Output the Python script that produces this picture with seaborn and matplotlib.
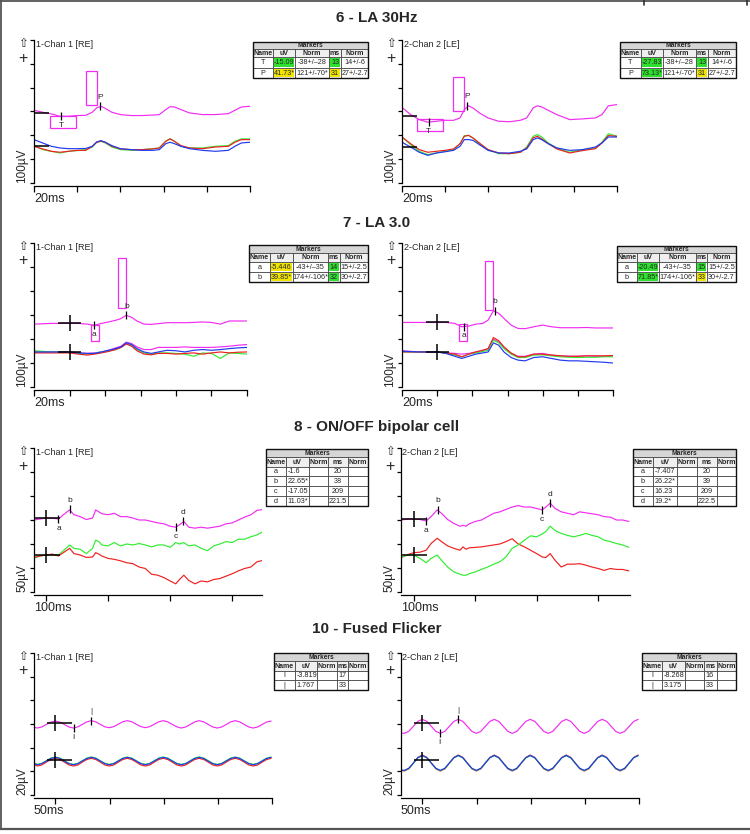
import matplotlib
matplotlib.use("Agg")
import matplotlib.pyplot as plt
from matplotlib.patches import Rectangle
import numpy as np
import pandas as pd
import seaborn as sns

# values: time in ms, amplitude in uV

# ---- 6 - LA 30Hz ----
la30_t = [0, 4, 8, 12, 16, 20, 24, 27, 29, 31, 33, 36, 40, 45, 50, 55, 58, 61, 63, 65, 68, 72, 78, 84, 90, 93, 96, 100]
la30_re_pink = [305, 297, 290, 280, 280, 283, 284, 297, 315, 322, 313, 297, 287, 283, 283, 285, 287, 308, 320, 319, 308, 294, 287, 287, 291, 305, 319, 322]
la30_re_green = [157, 140, 133, 126, 133, 136, 140, 151, 171, 175, 168, 151, 140, 137, 140, 144, 147, 175, 186, 175, 154, 147, 147, 154, 157, 175, 185, 185]
la30_re_red = [154, 143, 133, 129, 133, 137, 137, 154, 171, 175, 171, 154, 143, 140, 140, 143, 147, 175, 185, 175, 157, 147, 144, 151, 154, 171, 182, 182]
la30_re_blue = [182, 168, 154, 147, 144, 144, 145, 154, 172, 178, 171, 157, 144, 140, 137, 137, 140, 165, 171, 165, 154, 144, 137, 133, 137, 154, 168, 171]
la30_le_pink = [317, 287, 266, 255, 259, 263, 263, 273, 308, 324, 315, 294, 273, 259, 257, 263, 273, 315, 324, 319, 305, 287, 266, 269, 273, 287, 324, 329]
la30_le_green = [193, 161, 133, 119, 126, 133, 140, 165, 199, 199, 189, 165, 140, 123, 123, 129, 151, 196, 203, 193, 168, 147, 129, 140, 147, 171, 207, 196]
la30_le_red = [193, 165, 140, 129, 133, 137, 143, 165, 196, 200, 189, 168, 140, 126, 123, 129, 147, 189, 196, 185, 165, 143, 126, 136, 144, 168, 199, 196]
la30_le_blue = [171, 151, 129, 116, 126, 131, 137, 154, 182, 182, 179, 161, 137, 126, 126, 133, 143, 182, 189, 182, 165, 147, 137, 140, 151, 168, 193, 193]

# ---- 7 - LA 3.0 ----
la3_t = [-20, -10, 0, 5, 10, 14, 18, 22, 26, 29, 32, 35, 38, 42, 46, 50, 55, 60, 65, 70, 75, 80, 85, 90, 95, 100]
la3_re_pink = [262, 265, 265, 265, 262, 257, 265, 271, 278, 285, 299, 290, 275, 262, 261, 264, 268, 268, 268, 269, 271, 269, 262, 275, 275, 275]
la3_re_pink2 = [146, 146, 146, 142, 140, 142, 146, 153, 163, 170, 187, 181, 167, 156, 156, 165, 165, 165, 167, 165, 165, 165, 167, 170, 174, 177]
la3_re_green = [151, 146, 146, 140, 137, 140, 146, 151, 156, 165, 181, 174, 156, 142, 137, 142, 142, 140, 137, 128, 142, 140, 119, 142, 140, 137]
la3_re_red = [142, 142, 142, 137, 133, 137, 142, 148, 156, 165, 179, 170, 151, 137, 134, 140, 140, 137, 140, 142, 137, 142, 146, 142, 145, 146]
la3_re_blue = [146, 146, 146, 142, 140, 140, 146, 153, 160, 167, 184, 177, 160, 146, 140, 146, 153, 151, 146, 153, 156, 153, 156, 160, 163, 165]
la3_le_pink = [269, 269, 269, 269, 265, 251, 254, 262, 265, 279, 318, 307, 286, 258, 244, 243, 251, 258, 251, 247, 247, 247, 248, 246, 246, 246]
la3_le_pink2 = [151, 146, 146, 142, 140, 137, 140, 146, 153, 160, 199, 188, 165, 140, 128, 128, 137, 140, 133, 130, 128, 128, 130, 128, 128, 130]
la3_le_green = [146, 146, 146, 140, 133, 126, 137, 142, 148, 153, 195, 184, 160, 137, 123, 123, 133, 134, 130, 126, 124, 123, 124, 124, 126, 126]
la3_le_red = [146, 146, 146, 142, 137, 126, 137, 146, 153, 160, 206, 193, 167, 142, 126, 126, 137, 137, 133, 130, 128, 128, 130, 130, 130, 131]
la3_le_blue = [149, 146, 146, 140, 128, 119, 128, 137, 142, 146, 184, 174, 146, 123, 112, 109, 123, 126, 119, 112, 109, 109, 107, 105, 103, 100]

# ---- 8 - ON/OFF bipolar cell ----
onoff_t = [-20, -10, 0, 10, 20, 28, 38, 45, 55, 65, 75, 80, 85, 90, 100, 110, 120, 130, 140, 150, 160, 170, 180, 190,
           200, 209, 215, 222, 230, 240, 250, 260, 270, 280, 290, 300, 310, 320, 330, 340, 350]
onoff_re_pink = [150, 152, 154, 154, 152, 161, 171, 161, 157, 151, 154, 171, 167, 163, 161, 164, 157, 157, 154, 150, 150,
                 147, 144, 142, 137, 135, 140, 147, 135, 133, 135, 133, 135, 137, 142, 144, 150, 156, 161, 170, 172]
onoff_re_green = [70, 75, 77, 77, 77, 86, 98, 91, 89, 80, 91, 108, 105, 98, 96, 103, 96, 100, 98, 101, 98,
                  94, 98, 98, 93, 103, 100, 103, 96, 98, 91, 86, 96, 100, 105, 103, 110, 110, 115, 119, 126]
onoff_re_red = [72, 75, 77, 79, 75, 82, 91, 80, 77, 72, 73, 82, 79, 75, 70, 68, 65, 61, 59, 52, 49,
                37, 35, 30, 23, 17, 26, 35, 24, 17, 23, 21, 26, 28, 33, 38, 44, 49, 52, 63, 66]
onoff_le_pink = [150, 152, 152, 151, 148, 157, 171, 164, 151, 143, 137, 139, 137, 142, 147, 150, 157, 164, 167, 172, 177,
                 180, 177, 177, 174, 171, 177, 185, 174, 167, 164, 161, 167, 165, 163, 161, 157, 156, 150, 150, 147]
onoff_le_red = [72, 78, 82, 83, 87, 101, 112, 105, 96, 91, 87, 94, 89, 92, 93, 94, 96, 98, 100, 105, 111,
                100, 94, 87, 80, 73, 72, 80, 66, 52, 58, 58, 59, 56, 52, 49, 45, 49, 47, 47, 44]
onoff_le_green = [73, 77, 77, 70, 61, 70, 77, 66, 52, 42, 37, 35, 35, 38, 42, 47, 52, 58, 63, 73, 91,
                  98, 108, 117, 115, 121, 126, 137, 128, 122, 118, 115, 118, 122, 118, 115, 108, 105, 101, 98, 93]

# ---- 10 - Fused Flicker ----
fl_t = [-19.5, -16.6, -12.5, -8.3, -4.2, 0, 4.2, 8.3, 12.5, 16.6, 20.8, 24.9, 29.1, 33.2, 37.4, 41.5, 45.7, 49.8,
        54.0, 58.1, 62.3, 66.4, 70.6, 74.7, 78.9, 83.0, 87.2, 91.3, 95.5, 99.6, 103.8, 107.9, 112.1, 116.2, 120.4,
        124.5, 128.7, 132.8, 137.0, 141.1, 145.3, 149.4, 153.6, 157.7, 161.9, 166.0, 170.2, 174.3, 178.5, 182.6,
        186.8, 190.9, 195.1, 199.2]
fl_re_pink = [57.2,
              56.6, 57.5, 59.6, 61.6, 62.5, 61.6, 59.6, 57.5,
              56.6, 57.6, 59.7, 61.8, 62.8, 61.8, 59.7, 57.6,
              56.9, 57.8, 59.8, 61.9, 62.8, 61.9, 59.8, 57.8,
              56.9, 57.8, 59.8, 61.9, 62.8, 61.8, 59.7, 57.6,
              56.6, 57.5, 59.6, 61.8, 62.8, 61.8, 59.6, 57.5,
              56.6, 57.5, 59.6, 61.8, 62.8, 61.8, 59.6, 57.5,
              56.6, 57.5, 59.6, 61.7, 62.5]
fl_re_green = [26.8,
               25.9, 26.8, 29.0, 31.2, 32.1, 31.2, 29.0, 26.8,
               25.9, 26.8, 29.0, 31.2, 32.2, 31.2, 29.0, 26.8,
               25.9, 26.8, 29.0, 31.2, 32.1, 31.2, 29.0, 26.8,
               25.9, 26.8, 29.0, 31.2, 32.1, 31.2, 29.0, 26.8,
               25.9, 26.8, 29.0, 31.2, 32.2, 31.2, 29.0, 26.8,
               25.9, 26.8, 29.0, 31.2, 32.1, 31.2, 29.0, 26.8,
               25.9, 26.8, 29.0, 31.2, 32.1]
fl_re_red = [25.6,
             24.5, 25.4, 27.8, 30.0, 31.0, 30.0, 27.8, 25.4,
             24.5, 25.4, 27.8, 30.0, 31.0, 30.0, 27.8, 25.4,
             24.5, 25.4, 27.8, 30.0, 31.0, 30.0, 27.8, 25.4,
             24.5, 25.4, 27.8, 30.0, 31.0, 30.0, 27.8, 25.4,
             24.5, 25.4, 27.8, 30.0, 31.0, 30.0, 27.8, 25.4,
             24.5, 25.4, 27.8, 30.0, 31.0, 30.0, 27.8, 25.4,
             24.5, 25.4, 27.8, 30.0, 31.0]
fl_re_blue = [26.5,
              25.6, 26.5, 28.7, 30.9, 31.8, 30.9, 28.7, 26.5,
              25.6, 26.5, 28.7, 30.9, 31.8, 30.9, 28.7, 26.5,
              25.6, 26.5, 28.7, 30.9, 31.8, 30.9, 28.7, 26.5,
              25.6, 26.5, 28.7, 30.9, 31.8, 30.9, 28.7, 26.5,
              25.6, 26.5, 28.7, 30.9, 31.8, 30.9, 28.7, 26.5,
              25.6, 26.5, 28.7, 30.9, 31.8, 30.9, 28.7, 26.5,
              25.6, 26.5, 28.7, 30.9, 31.8]
fl_le_pink = [52.4,
              52.1, 53.8, 58.0, 62.2, 63.9, 62.2, 58.0, 53.8,
              52.1, 53.8, 58.0, 62.2, 63.9, 62.2, 58.0, 53.8,
              52.1, 53.8, 58.0, 62.2, 63.9, 62.2, 58.0, 53.8,
              52.1, 53.8, 58.0, 62.2, 63.9, 62.2, 58.0, 53.8,
              52.1, 53.8, 58.0, 62.2, 63.9, 62.2, 58.0, 53.8,
              52.1, 53.8, 58.0, 62.2, 63.9, 62.2, 58.0, 53.8,
              52.1, 53.8, 58.0, 62.2, 63.9]
fl_le_green = [21.2,
               20.6, 22.4, 26.9, 31.4, 33.2, 31.4, 26.9, 22.4,
               20.6, 22.4, 26.9, 31.4, 33.2, 31.4, 26.9, 22.4,
               20.6, 22.4, 26.9, 31.4, 33.2, 31.4, 26.9, 22.4,
               20.6, 22.4, 26.9, 31.4, 33.2, 31.4, 26.9, 22.4,
               20.6, 22.4, 26.9, 31.4, 33.2, 31.4, 26.9, 22.4,
               20.6, 22.4, 26.9, 31.4, 33.2, 31.4, 26.9, 22.4,
               20.6, 22.4, 26.9, 31.4, 33.2]
fl_le_red = [20.8,
             20.3, 22.1, 26.9, 31.7, 33.8, 31.7, 26.9, 22.1,
             20.3, 22.1, 26.9, 31.7, 33.8, 31.7, 26.9, 22.1,
             20.3, 22.1, 26.9, 31.7, 33.8, 31.7, 26.9, 22.1,
             20.3, 22.1, 26.9, 31.7, 33.8, 31.7, 26.9, 22.1,
             20.3, 22.1, 26.9, 31.7, 33.8, 31.7, 26.9, 22.1,
             20.3, 22.1, 26.9, 31.7, 33.8, 31.7, 26.9, 22.1,
             20.3, 22.1, 26.9, 31.7, 33.8]
fl_le_blue = [21.0,
              20.8, 22.6, 27.0, 31.5, 33.4, 31.5, 27.0, 22.6,
              20.8, 22.6, 27.0, 31.5, 33.4, 31.5, 27.0, 22.6,
              20.8, 22.6, 27.0, 31.5, 33.4, 31.5, 27.0, 22.6,
              20.8, 22.6, 27.0, 31.5, 33.4, 31.5, 27.0, 22.6,
              20.8, 22.6, 27.0, 31.5, 33.4, 31.5, 27.0, 22.6,
              20.8, 22.6, 27.0, 31.5, 33.4, 31.5, 27.0, 22.6,
              20.8, 22.6, 27.0, 31.5, 33.4]

# markers: name, time, amplitude, label side (+1 above / -1 below)
la30_re_mk = (["T", "P"], [12.5, 30.6], [280, 322], [-1, 1])
la30_le_mk = (["T", "P"], [12.5, 30.3], [255, 324], [-1, 1])
la3_re_mk = (["a", "b"], [14, 32], [258, 299], [-1, 1])
la3_le_mk = (["a", "b"], [15, 33], [251, 318], [-1, 1])
onoff_re_mk = (["a", "b", "c", "d"], [20, 38, 209, 221.5], [152, 172, 135, 147], [-1, 1, -1, 1])
onoff_le_mk = (["a", "b", "c", "d"], [20, 39, 209, 222.5], [148, 171, 171, 185], [-1, 1, -1, 1])
fl_re_mk = (["I", "|"], [17, 33], [56.6, 62.8], [-1, 1])
fl_le_mk = (["I", "|"], [16, 33], [52.1, 63.9], [-1, 1])

# normal-range windows (ms range, uV range)
la30_re_win_t = [(7.3, 19.4), (24.2, 29.2)]
la30_re_win_v = [(231, 283), (326, 469)]
la30_le_win_t = [(7.2, 19.3), (23.9, 29.0)]
la30_le_win_v = [(220, 268), (301, 443)]
la3_re_win_t = [(12.2, 16.9), (27.2, 32.0)]
la3_re_win_v = [(191, 258), (331, 537)]
la3_le_win_t = [(12.3, 17.0), (27.4, 32.0)]
la3_le_win_v = [(193, 261), (321, 526)]

# stimulus cursors (baseline of each trace group at t = 0)
la30_re_cross = [294, 154]
la30_le_cross = [280, 150]
la3_re_cross = [265, 146]
la3_le_cross = [269, 146]
onoff_re_cross = [153.5, 76.7]
onoff_le_cross = [152, 76.7]
fl_re_cross = [60.6, 29.6]
fl_le_cross = [60.6, 29.6]

# marker tables
tab_head = ["Name", "uV", "Norm", "ms", "Norm"]
la30_re_tab = [["T", "-15.09", "-38+/\u201328", "13", "14+/-6"], ["P", "41.73*", "121+/-70*", "31", "27+/-2.7"]]
la30_le_tab = [["T", "-27.83", "-38+/\u201328", "13", "14+/-6"], ["P", "73.13*", "121+/-70*", "31", "27+/-2.7"]]
la3_re_tab = [["a", "-5.446", "-43+/\u201335", "14", "15+/-2.5"], ["b", "39.85*", "174+/-106*", "32", "30+/-2.7"]]
la3_le_tab = [["a", "-20.49", "-43+/\u201335", "15", "15+/-2.5"], ["b", "71.85*", "174+/-106*", "33", "30+/-2.7"]]
onoff_re_tab = [["a", "-1.6", "", "20", ""], ["b", "22.65*", "", "38", ""], ["c", "-17.05", "", "209", ""], ["d", "11.03*", "", "221.5", ""]]
onoff_le_tab = [["a", "-7.407", "", "20", ""], ["b", "26.22*", "", "39", ""], ["c", "16.23", "", "209", ""], ["d", "19.2*", "", "222.5", ""]]
fl_re_tab = [["I", "-3.819", "", "17", ""], ["|", "1.767", "", "33", ""]]
fl_le_tab = [["I", "-8.268", "", "16", ""], ["|", "3.175", "", "33", ""]]
# highlight of uV / ms cells (g = green, y = yellow)
la30_re_hl = [("g", "g"), ("y", "y")]
la30_le_hl = [("g", "g"), ("g", "y")]
la3_re_hl = [("y", "g"), ("y", "g")]
la3_le_hl = [("g", "g"), ("g", "y")]

# ---------------------------------------------------------------
sns.set_theme(style="white")
plt.rcParams["font.family"] = ["Liberation Sans", "DejaVu Sans"]

W, H = 750, 834
MAG = "#f22cf2"
COLORS = {"pink": MAG, "pink2": MAG, "green": "#30ec30", "red": "#ee2020", "blue": "#2238ee"}
CELL = {"g": "#2fe02f", "y": "#f2e600"}

fig = plt.figure(figsize=(W / 100, H / 100), dpi=100)
ov = fig.add_axes([0, 0, 1, 1])
ov.set_xlim(0, W)
ov.set_ylim(H, 0)
ov.axis("off")
ov.set_zorder(10)


def draw_panel(box, xlim, xticks, div, t, traces, chan, xlab, ylab, cross, span, mk, win=None, vcross=True):
    l, r, top, bot = box
    ax = fig.add_axes([l / W, 1 - bot / H, (r - l) / W, (bot - top) / H])
    names = list(traces)
    df = pd.DataFrame({
        "t": np.tile(t, len(names)),
        "v": np.concatenate([traces[n] for n in names]),
        "trace": np.repeat(names, len(t)),
    })
    sns.lineplot(data=df, x="t", y="v", hue="trace", hue_order=names,
                 palette={n: COLORS[n] for n in names}, estimator=None, sort=False,
                 legend=False, linewidth=0.85, ax=ax)
    ax.set_xlim(*xlim)
    ax.set_ylim(0, 6 * div)
    ax.set_xticks(xticks)
    ax.set_yticks(np.arange(7) * div)
    ax.set_xticklabels([])
    ax.set_yticklabels([])
    ax.set_xlabel("")
    ax.set_ylabel("")
    ax.patch.set_visible(False)
    for s in ("top", "right"):
        ax.spines[s].set_visible(False)
    for s in ("left", "bottom"):
        ax.spines[s].set_color("black")
        ax.spines[s].set_linewidth(0.9)
    ax.spines["bottom"].set_position(("outward", 2.2))
    ax.tick_params(axis="x", bottom=True, direction="out", length=4.3, width=0.9, color="black")
    ax.tick_params(axis="y", left=True, direction="out", length=3, width=0.9, color="black")

    # stimulus cursors
    if vcross:
        ax.plot([0] * len(cross), cross, ls="none", marker="|", ms=11.5, mew=1.1, color="black", clip_on=False)
    ax.hlines(cross, span[0], span[1], color="black", lw=1.1)

    # normal windows
    if win is not None:
        for (t0, t1), (v0, v1) in zip(*win):
            ax.add_patch(Rectangle((t0, v0), t1 - t0, v1 - v0, fill=False, ec=MAG, lw=0.9))

    # markers
    names_m, mt, mv, side = mk
    ax.plot(mt, mv, ls="none", marker="|", ms=5.8, mew=0.9, color="black")
    for n, x, y, s in zip(names_m, mt, mv, side):
        ax.annotate(n, (x, y), xytext=(0, 6.6 * s), textcoords="offset points",
                    ha="center", va="center", fontsize=6)

    ov.text(l - 11, top + 3, "\u21e7", family=["DejaVu Sans"], fontsize=8.5, ha="center", va="center")
    ov.text(l - 11, top + 18, "+", fontsize=11.5, ha="center", va="center")
    ov.text(l + 1.5, top + 4.5, chan, fontsize=6.5, ha="left", va="center")
    ov.text(l - 6, bot, ylab, rotation=90, fontsize=8.5, ha="right", va="bottom")
    ov.text(l, bot + 16, xlab, fontsize=9, ha="left", va="center")
    return ax


def draw_table(cols, rows, cells, hl=None, align="ccccc"):
    x0, x1 = cols[0], cols[-1]
    ov.add_patch(Rectangle((x0, rows[0]), x1 - x0, rows[1] - rows[0], fc="#d6d6d6", ec="#333333", lw=0.5))
    ov.text((x0 + x1) / 2, (rows[0] + rows[1]) / 2 + 0.3, "Markers", fontsize=4.8,
            fontweight="bold", ha="center", va="center")
    for j, h in enumerate(tab_head):
        ov.add_patch(Rectangle((cols[j], rows[1]), cols[j + 1] - cols[j], rows[2] - rows[1],
                               fc="#efefef", ec="#333333", lw=0.5))
        ov.text((cols[j] + cols[j + 1]) / 2, (rows[1] + rows[2]) / 2 + 0.3, h, fontsize=5,
                fontweight="bold", ha="center", va="center")
    for i, row in enumerate(cells):
        y0, y1 = rows[i + 2], rows[i + 3]
        for j, val in enumerate(row):
            c0, c1 = cols[j], cols[j + 1]
            ov.add_patch(Rectangle((c0, y0), c1 - c0, y1 - y0, fc="white", ec="#333333", lw=0.5))
            if hl is not None and j in (1, 3):
                key = hl[i][0 if j == 1 else 1]
                ov.add_patch(Rectangle((c0 + 1, y0 + 1), c1 - c0 - 2, y1 - y0 - 2, fc=CELL[key], ec="none"))
            if align[j] == "l":
                ov.text(c0 + 1.3, (y0 + y1) / 2 + 0.3, val, fontsize=5.2, ha="left", va="center")
            else:
                ov.text((c0 + c1) / 2, (y0 + y1) / 2 + 0.3, val, fontsize=5.2, ha="center", va="center")
    ov.add_patch(Rectangle((x0, rows[0]), x1 - x0, rows[-1] - rows[0], fill=False, ec="#111111", lw=1.0))


# ---- section titles ----
for ttl, y in [("6 - LA 30Hz", 18), ("7 - LA 3.0", 223), ("8 - ON/OFF bipolar cell", 427), ("10 - Fused Flicker", 629)]:
    ov.text(377, y, ttl, fontsize=11, fontweight="bold", ha="center", va="center")

RE, LE = "1-Chan 1 [RE]", "2-Chan 2 [LE]"

# LA 30Hz
draw_panel((34, 250, 40, 183), (0, 100), [0, 20, 40, 60, 80, 100], 100, la30_t,
           {"pink": la30_re_pink, "green": la30_re_green, "red": la30_re_red, "blue": la30_re_blue},
           RE, "20ms", "100\u00b5V", la30_re_cross, (0, 7), la30_re_mk, (la30_re_win_t, la30_re_win_v),
           vcross=False)
draw_panel((402, 617, 40, 183), (0, 100), [0, 20, 40, 60, 80, 100], 100, la30_t,
           {"pink": la30_le_pink, "green": la30_le_green, "red": la30_le_red, "blue": la30_le_blue},
           LE, "20ms", "100\u00b5V", la30_le_cross, (0, 7), la30_le_mk, (la30_le_win_t, la30_le_win_v),
           vcross=False)
draw_table([253, 273, 295, 329, 341, 368], [42, 49, 57, 68, 78], la30_re_tab, la30_re_hl)
draw_table([620, 641, 663, 696, 708, 736], [42, 49, 57, 68, 78], la30_le_tab, la30_le_hl)

# LA 3.0
draw_panel((34, 247, 243, 387), (-20, 100), [-20, 0, 20, 40, 60, 80, 100], 100, la3_t,
           {"pink": la3_re_pink, "pink2": la3_re_pink2, "green": la3_re_green, "red": la3_re_red, "blue": la3_re_blue},
           RE, "20ms", "100\u00b5V", la3_re_cross, (-6.6, 6.6), la3_re_mk, (la3_re_win_t, la3_re_win_v))
draw_panel((402, 613, 243, 387), (-20, 100), [-20, 0, 20, 40, 60, 80, 100], 100, la3_t,
           {"pink": la3_le_pink, "pink2": la3_le_pink2, "green": la3_le_green, "red": la3_le_red, "blue": la3_le_blue},
           LE, "20ms", "100\u00b5V", la3_le_cross, (-6.6, 6.6), la3_le_mk, (la3_le_win_t, la3_le_win_v))
draw_table([249, 270, 293, 328, 340, 368], [245, 253, 262, 272, 282], la3_re_tab, la3_re_hl)
draw_table([617, 637, 659, 696, 707, 736], [246, 253, 262, 272, 282], la3_le_tab, la3_le_hl)

# ON/OFF
draw_panel((34, 262, 448, 592), (-19.4, 348), [0, 100, 200, 300], 50, onoff_t,
           {"pink": onoff_re_pink, "green": onoff_re_green, "red": onoff_re_red},
           RE, "100ms", "50\u00b5V", onoff_re_cross, (-17, 22), onoff_re_mk)
draw_panel((401, 630, 448, 592), (-21, 352), [0, 100, 200, 300], 50, onoff_t,
           {"pink": onoff_le_pink, "red": onoff_le_red, "green": onoff_le_green},
           LE, "100ms", "50\u00b5V", onoff_le_cross, (-19, 22), onoff_le_mk)
onoff_rows = [449, 457, 467, 476, 486, 496, 506]
draw_table([266, 286, 309, 328, 348, 368], onoff_rows, onoff_re_tab, align="clccc")
draw_table([633, 653, 677, 697, 717, 736], onoff_rows, onoff_le_tab, align="clccc")

# Flicker
draw_panel((34, 272, 653, 795), (-19.7, 200), [0, 50, 100, 150, 200], 20, fl_t,
           {"pink": fl_re_pink, "red": fl_re_red, "green": fl_re_green, "blue": fl_re_blue},
           RE, "50ms", "20\u00b5V", fl_re_cross, (-7.5, 15), fl_re_mk)
draw_panel((401, 639, 653, 795), (-19.7, 200), [0, 50, 100, 150, 200], 20, fl_t,
           {"pink": fl_le_pink, "red": fl_le_red, "green": fl_le_green, "blue": fl_le_blue},
           LE, "50ms", "20\u00b5V", fl_le_cross, (-7.5, 15), fl_le_mk)
fl_rows = [653, 661, 671, 680, 690]
draw_table([274, 295, 317, 337, 348, 368], fl_rows, fl_re_tab, align="cllll")
draw_table([642, 662, 685, 704, 717, 736], fl_rows, fl_le_tab, align="cllll")

# page frame
fc = "#555555"
ov.plot([0, W], [1.2, 1.2], color=fc, lw=1.3, clip_on=False)
ov.plot([1.2, 1.2], [0, 829], color=fc, lw=1.3, clip_on=False)
ov.plot([0, W], [829, 829], color=fc, lw=1.6, clip_on=False)
ov.plot([644, 644], [0, 5], color="#333333", lw=1.2, clip_on=False)
ov.plot([747, 747], [0, 5], color="#333333", lw=1.2, clip_on=False)

fig.savefig("out.png", dpi=100)
